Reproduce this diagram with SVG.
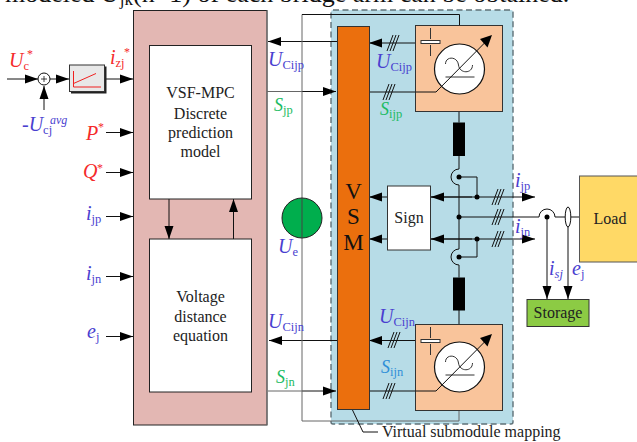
<svg xmlns="http://www.w3.org/2000/svg" width="637" height="442" viewBox="0 0 637 442">
<defs>
<marker id="a" markerUnits="userSpaceOnUse" markerWidth="14" markerHeight="10" refX="13" refY="5" orient="auto"><path d="M0 0.500L13 5L0 9.500Z" fill="#000"/></marker>
<g id="tick"><path d="M-5 8L1 -8M-2 8L4 -8M-8 8L-2 -8" fill="none" stroke="#111" stroke-width="1"/></g>
<g id="src"><circle r="25" fill="#fff" stroke="#111" stroke-width="1.200"/><path d="M-14 -5C-14 -13 -2 -13 -1 -4C0 5 13 5 13 -4" fill="none" stroke="#333" stroke-width="1"/><path d="M-14 8H15" stroke="#333" stroke-width="1"/></g>
<g id="cap"><path d="M0 -14V-3M0 3V14" stroke="#333" stroke-width="1"/><rect x="-9.500" y="-1.500" width="19" height="3" fill="#fff" stroke="#333"/></g>
<g id="dial"><path d="M-23.500 23L26 -27" stroke="#111" fill="none"/><path d="M32.500 -34L20.500 -30L28 -21.500Z" fill="#000"/></g>
</defs>
<style>
text{font-family:"Liberation Serif","Times New Roman",serif}
.t{font-size:16px;fill:#222;text-anchor:middle}
.l{stroke:#111;stroke-width:1;fill:none}
.g{stroke:#666;stroke-width:1;fill:none}
.ar{marker-end:url(#a)}
.b{fill:#4a3fd0}.r{fill:#f52a2a}.gn{fill:#1dbb64}.c{fill:#2f8fd8}
.i{font-style:italic;font-size:20px}.i2{font-style:italic;font-size:18px}.s{font-size:12.500px;font-style:normal}
</style>
<text x="5" y="2" font-size="26" fill="#111">modeled <tspan font-style="italic">U</tspan><tspan font-size="17" dy="3">jk</tspan><tspan dy="-3">(n+1) of each bridge arm can be obtained.</tspan></text>

<g id="pink-panel"><rect x="133.500" y="10.500" width="133.500" height="414.500" fill="#e3b7b3" stroke="#222" stroke-width="1"/><path d="M267 10.500V425" stroke="#777" stroke-width="1.200"/></g>
<g id="blue-panel"><rect x="331" y="10" width="182" height="414" rx="2" fill="#b7dce7" stroke="#5f7178" stroke-width="1.400" stroke-dasharray="6 3.500"/></g>

<g id="connectors">
<path class="l ar" d="M7 79H38"/>
<path class="l ar" d="M50 79H69"/>
<path class="l ar" d="M44 110V86"/>
<path class="l ar" d="M105 79H133"/>
<path class="l ar" d="M106 132.500H133"/>
<path class="l ar" d="M106 172.500H133"/>
<path class="l ar" d="M106 216.500H133"/>
<path class="l ar" d="M106 276.500H133"/>
<path class="l ar" d="M106 336.500H133"/>
<path class="l ar" d="M169 199V239"/>
<path class="l ar" d="M233.500 239V199"/>
<path class="l ar" d="M337 41.500H268"/>
<path class="g" d="M267 91.500H302"/><path class="l ar" d="M302 91.500H336"/>
<path class="l ar" d="M337 340.500H269"/>
<path class="g" d="M268 391H302"/><path class="l ar" d="M302 391H336"/>
<path class="g" d="M302 14.500V421"/>
<path class="l" d="M302 14.500H459.500V25.500"/>
<path class="g" d="M302 421H459V410"/>
<path class="l ar" d="M415 43H369"/>
<path class="l" d="M369 92H415"/>
<path class="l" d="M369 391H415"/>
<path class="l ar" d="M415 340.500H369"/>
<path class="l" d="M459 111.500V122.500M459 156V169M459 185V249M459 265V277.500M459 310V324.500"/>
<path class="l" d="M459 169A8 8 0 0 0 459 185"/>
<path class="l" d="M459 249A8 8 0 0 0 459 265"/>
<path class="l" d="M459 177H477V197M459 257H477V239"/>
<path class="l ar" d="M431 197H535"/>
<path class="l ar" d="M472 197H431"/>
<path class="l ar" d="M387 197H369"/>
<path class="l ar" d="M431 239H535"/>
<path class="l ar" d="M472 239H431"/>
<path class="l ar" d="M387 239H369"/>
<path class="l" d="M459 217H539A8 8 0 0 1 555 217H565M571 217H579"/>
<path class="l ar" d="M547 217V299"/>
<path class="l ar" d="M568 207V299"/>
<ellipse cx="568" cy="217" rx="2.800" ry="10" fill="#fff" stroke="#111"/>
<circle cx="459" cy="177" r="2.500" fill="#000"/><circle cx="477" cy="197" r="2.500" fill="#000"/><circle cx="459" cy="217" r="2.500" fill="#000"/><circle cx="477" cy="239" r="2.500" fill="#000"/><circle cx="459" cy="257" r="2.500" fill="#000"/><circle cx="547" cy="217" r="2.500" fill="#000"/>
<use href="#tick" x="395" y="43"/><use href="#tick" x="391" y="92"/>
<use href="#tick" x="500" y="197"/><use href="#tick" x="500" y="217"/><use href="#tick" x="500" y="239"/>
<use href="#tick" x="396" y="340"/><use href="#tick" x="391" y="391"/>
<path class="l" d="M352 409L363 432H378"/>
</g>

<g id="sum"><circle cx="44" cy="79" r="6" fill="#fff" stroke="#111"/><path d="M41 79H47M44 76V82" stroke="#111" stroke-width="0.800"/></g>
<g id="limiter"><rect x="71" y="66.500" width="35.500" height="27" fill="#222"/><rect x="69.500" y="65" width="35" height="26.500" fill="#e8e8e8" stroke="#333"/><path d="M73.500 71V87H101M73.500 83.500L96 73.500" stroke="#f02020" fill="none"/></g>
<g id="model"><rect x="149.500" y="45.500" width="102" height="153.500" fill="#fff" stroke="#222"/><text class="t" x="200.500" y="98">VSF-MPC</text><text class="t" x="200.500" y="119">Discrete</text><text class="t" x="200.500" y="138">prediction</text><text class="t" x="200.500" y="157">model</text></g>
<g id="equation"><rect x="149.500" y="239" width="102" height="153" fill="#fff" stroke="#222"/><text class="t" x="200.500" y="302">Voltage</text><text class="t" x="200.500" y="322">distance</text><text class="t" x="200.500" y="341">equation</text></g>
<g id="ue"><circle cx="302" cy="218" r="20" fill="#00ae4d" stroke="#222"/><path d="M302 198V238" stroke="#444"/></g>
<g id="vsm"><rect x="337.500" y="26.500" width="32" height="383" fill="#eb6f0d" stroke="#333"/><text x="353.500" y="199" font-size="23" fill="#111" text-anchor="middle">V</text><text x="353.500" y="224" font-size="23" fill="#111" text-anchor="middle">S</text><text x="353.500" y="250" font-size="23" fill="#111" text-anchor="middle">M</text></g>
<g id="sm-top"><rect x="415.500" y="25.500" width="87" height="86" fill="#f9c49b" stroke="#333"/><path class="l" d="M415.500 92H436"/><use href="#cap" x="430.500" y="42"/><use href="#src" x="459.500" y="69"/><use href="#dial" x="459.500" y="69"/></g>
<g id="sm-bottom"><rect x="415.500" y="324.500" width="87" height="86" fill="#f9c49b" stroke="#333"/><path class="l" d="M415.500 391H436"/><use href="#cap" x="430.500" y="341"/><use href="#src" x="459.500" y="367"/><use href="#dial" x="459.500" y="368"/></g>
<g id="inductors"><rect x="453" y="122.500" width="12" height="33.500" fill="#000"/><rect x="453" y="277.500" width="12" height="33" fill="#000"/></g>
<g id="sign"><rect x="387.500" y="186" width="43" height="64" fill="#fff" stroke="#333"/><text class="t" x="409" y="223">Sign</text></g>
<g id="load"><rect x="579.500" y="176" width="60" height="86" fill="#ffd966" stroke="#555"/><text class="t" x="610" y="224">Load</text></g>
<g id="storage"><rect x="527" y="299.500" width="62" height="27" fill="#8ccb44" stroke="#333"/><text class="t" x="558" y="318">Storage</text></g>

<g id="labels">
<text x="9" y="67" class="i r">U<tspan class="s" dy="3">c</tspan></text><text x="27" y="58" class="r" font-size="12">*</text>
<text x="110" y="64" class="i r">i<tspan class="s" dy="3">zj</tspan></text><text x="124" y="56" class="r" font-size="12">*</text>
<text x="22" y="131" class="i b">-U<tspan class="s" dy="3">cj</tspan></text><text x="50" y="124" class="b" font-size="12" font-style="italic">avg</text>
<text x="86" y="140" class="i r">P</text><text x="98" y="131" class="r" font-size="12">*</text>
<text x="83" y="178" class="i r">Q</text><text x="97" y="172" class="r" font-size="12">*</text>
<text x="86" y="220" class="i b">i<tspan class="s" dy="3">jp</tspan></text>
<text x="86" y="280" class="i b">i<tspan class="s" dy="3">jn</tspan></text>
<text x="87" y="338" class="i b">e<tspan class="s" dy="3">j</tspan></text>
<text x="268" y="66" class="i b">U<tspan class="s" dy="3">Cijp</tspan></text>
<text x="274" y="111" class="i2 gn">S<tspan class="s" dy="3">jp</tspan></text>
<text x="278" y="253" class="i b">U<tspan class="s" dy="3">e</tspan></text>
<text x="268" y="328" class="i b">U<tspan class="s" dy="3">Cijn</tspan></text>
<text x="276" y="383" class="i2 gn">S<tspan class="s" dy="3">jn</tspan></text>
<text x="376" y="68" class="i b">U<tspan class="s" dy="3">Cijp</tspan></text>
<text x="380" y="115" class="i2 gn">S<tspan class="s" dy="3">ijp</tspan></text>
<text x="379" y="323" class="i b">U<tspan class="s" dy="3">Cijn</tspan></text>
<text x="381" y="373" class="i2 c">S<tspan class="s" dy="3">ijn</tspan></text>
<text x="515" y="187" class="i b">i<tspan class="s" dy="3">jp</tspan></text>
<text x="515" y="233" class="i b">i<tspan class="s" dy="3">jn</tspan></text>
<text x="549" y="275" class="i b">i<tspan font-size="12.500" font-style="italic" dy="3">sj</tspan></text>
<text x="572" y="275" class="i b">e<tspan class="s" dy="3">j</tspan></text>
<text x="382" y="437" font-size="16" fill="#222">Virtual submodule mapping</text>
</g>
</svg>
